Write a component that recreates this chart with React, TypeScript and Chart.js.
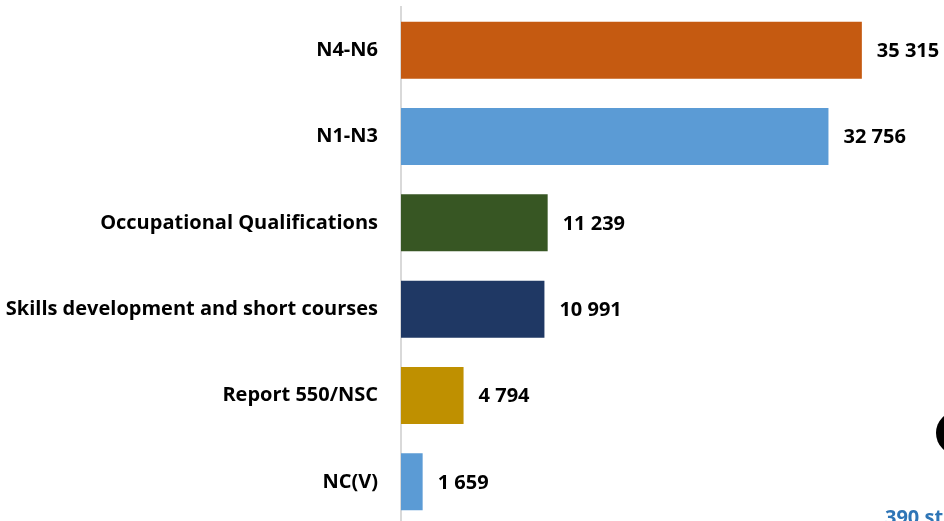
import React, { useEffect, useRef } from "react";
import { Chart, registerables } from "chart.js";

Chart.register(...registerables);

const categories = [
  "N4-N6",
  "N1-N3",
  "Occupational Qualifications",
  "Skills development and short courses",
  "Report 550/NSC",
  "NC(V)",
];
const values = [35315, 32756, 11239, 10991, 4794, 1659];
const barColors = ["#C55A11", "#5B9BD5", "#375623", "#1F3864", "#BF9000", "#5B9BD5"];

const FONT = "'Open Sans', Lato, sans-serif";

function fmt(v: number) {
  return String(v).replace(/\B(?=(\d{3})+(?!\d))/g, " ");
}

const valueLabels = {
  id: "valueLabels",
  afterDatasetsDraw(chart: any) {
    const ctx = chart.ctx;
    const meta = chart.getDatasetMeta(0);
    ctx.save();
    ctx.font = `bold 20px ${FONT}`;
    ctx.fillStyle = "#000000";
    ctx.textBaseline = "middle";
    ctx.textAlign = "left";
    meta.data.forEach((bar: any, i: number) => {
      ctx.fillText(fmt(values[i]), bar.x + 15, bar.y + 1);
    });
    ctx.restore();
  },
};

const decorations = {
  id: "decorations",
  afterDraw(chart: any) {
    const ctx = chart.ctx;
    ctx.save();
    ctx.fillStyle = "#000000";
    ctx.beginPath();
    ctx.ellipse(958, 433, 22, 22, 0, 0, Math.PI * 2);
    ctx.fill();
    ctx.fillStyle = "#2E75B6";
    ctx.font = `bold 20px ${FONT}`;
    ctx.textBaseline = "alphabetic";
    ctx.textAlign = "left";
    ctx.fillText("390 students", 885, 524);
    ctx.restore();
  },
};

export default function App() {
  const ref = useRef<HTMLCanvasElement | null>(null);
  useEffect(() => {
    if (!ref.current) return;
    const chart = new Chart(ref.current, {
      type: "bar",
      data: {
        labels: categories,
        datasets: [
          {
            data: values,
            backgroundColor: barColors,
            borderWidth: 0,
            categoryPercentage: 1,
            barPercentage: 0.66,
          },
        ],
      },
      options: {
        indexAxis: "y",
        responsive: false,
        animation: false,
        layout: { padding: { top: 7, bottom: 5, left: 0, right: 0 } },
        plugins: { legend: { display: false }, tooltip: { enabled: false } },
        scales: {
          x: { display: false, min: 0, max: 41610 },
          y: {
            afterFit(scale: any) {
              scale.width = 401;
              scale.paddingTop = 0;
              scale.paddingBottom = 0;
            },
            grid: { display: false, drawTicks: false },
            border: { display: true, color: "#D9D9D9", width: 2 },
            ticks: {
              padding: 23,
              color: "#000000",
              font: { family: FONT, size: 20, weight: "bold" },
            },
          },
        },
      },
      plugins: [valueLabels, decorations],
    });
    return () => chart.destroy();
  }, []);
  return (
    <div style={{ position: "fixed", left: 0, top: 0, width: 944, height: 530, background: "#fff" }}>
      <canvas ref={ref} width={944} height={530} />
    </div>
  );
}
